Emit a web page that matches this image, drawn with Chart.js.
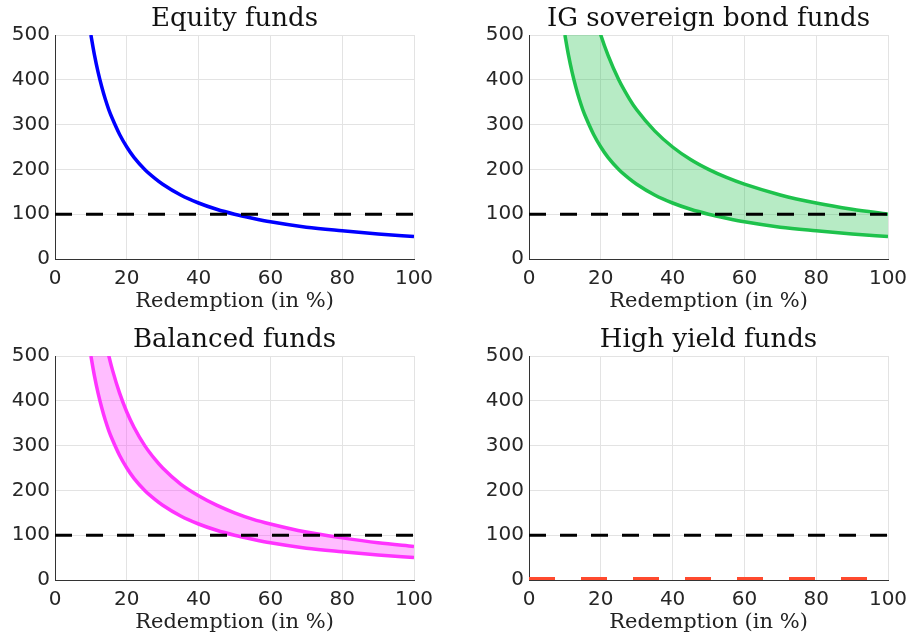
<!DOCTYPE html>
<html>
<head>
<meta charset="utf-8">
<script src="https://cdn.jsdelivr.net/npm/chart.js@4/dist/chart.umd.min.js"></script>
<style>
  html, body { margin: 0; padding: 0; background: #fff; overflow: hidden; }
  .panel { position: absolute; width: 435px; height: 320px; }
</style>
</head>
<body>
<div class="panel" style="left:0;top:0"><canvas id="equityChart" width="435" height="320"></canvas></div>
<div class="panel" style="left:474px;top:0"><canvas id="igChart" width="435" height="320"></canvas></div>
<div class="panel" style="left:0;top:321px"><canvas id="balancedChart" width="435" height="320"></canvas></div>
<div class="panel" style="left:474px;top:321px"><canvas id="hyChart" width="435" height="320"></canvas></div>
<script>
// redemption (in %)
const redemption = [10, 11, 12, 13, 14, 15, 16, 18, 20, 22, 25, 28, 30, 35, 40, 45, 50, 55, 60, 70, 80, 90, 100];
// lower bound shared by equity, IG and balanced panels
const lowerBound = [500, 455, 417, 385, 357, 333, 313, 278, 250, 227, 200, 179, 167, 143, 125, 111, 100, 91, 83, 71, 63, 56, 50];
const igUpper = [1000, 909, 833, 769, 714, 667, 625, 556, 500, 455, 400, 357, 333, 286, 250, 222, 200, 182, 167, 143, 125, 111, 100];
const balancedUpper = [750, 682, 625, 577, 536, 500, 469, 417, 375, 341, 300, 268, 250, 214, 188, 167, 150, 136, 125, 107, 94, 83, 75];
const hyX = [0, 100];
const hyValues = [2, 2];
const thresholdX = [0, 100];
const thresholdY = [100, 100];
const xTicks = [0, 20, 40, 60, 80, 100];
const yTicks = [0, 100, 200, 300, 400, 500];

const toPoints = (xs, ys) => xs.map((x, i) => ({ x: x, y: ys[i] }));

const titlePlugin = {
    id: 'panelTitle',
    afterDraw(chart) {
        const ctx = chart.ctx;
        const area = chart.chartArea;
        ctx.save();
        ctx.font = '26px "DejaVu Serif"';
        ctx.fillStyle = '#111';
        ctx.textAlign = 'center';
        ctx.textBaseline = 'alphabetic';
        ctx.fillText(chart.options.panelTitle, (area.left + area.right) / 2, 26);
        ctx.restore();
    }
};

function thresholdDataset() {
    return {
        data: toPoints(thresholdX, thresholdY),
        borderColor: '#000',
        borderWidth: 3,
        borderDash: [17, 14],
        pointRadius: 0,
        fill: false,
        order: 0
    };
}

function makeChart(id, title, datasets) {
    const ctx = document.getElementById(id).getContext('2d');
    new Chart(ctx, {
        type: 'line',
        data: { datasets: datasets },
        plugins: [titlePlugin],
        options: {
            panelTitle: title,
            responsive: false,
            animation: false,
            layout: { padding: { top: 35, right: 21, left: 0, bottom: 0 } },
            elements: {
                line: { cubicInterpolationMode: 'monotone' }
            },
            scales: {
                x: {
                    type: 'linear',
                    min: 0,
                    max: 100,
                    afterBuildTicks: (scale) => { scale.ticks = xTicks.map(v => ({ value: v })); },
                    afterFit: (scale) => {
                        scale.height = 61;
                        scale.paddingLeft = 0;
                        scale.paddingRight = 0;
                    },
                    grid: { color: '#e3e3e3', drawTicks: false },
                    border: { color: '#333', width: 1 },
                    ticks: {
                        color: '#262626',
                        padding: 8,
                        font: { family: 'DejaVu Sans', size: 20 }
                    },
                    title: {
                        display: true,
                        text: 'Redemption (in %)',
                        color: '#222',
                        padding: { top: 0, bottom: 6 },
                        font: { family: 'DejaVu Serif', size: 21 }
                    }
                },
                y: {
                    min: 0,
                    max: 500,
                    afterBuildTicks: (scale) => { scale.ticks = yTicks.map(v => ({ value: v })); },
                    afterFit: (scale) => { scale.width = 55; },
                    grid: { color: '#e3e3e3', drawTicks: false },
                    border: { color: '#333', width: 1 },
                    ticks: {
                        color: '#262626',
                        padding: 5,
                        font: { family: 'DejaVu Sans', size: 20 }
                    }
                }
            },
            plugins: {
                legend: { display: false },
                tooltip: { enabled: false }
            }
        }
    });
}

makeChart('equityChart', 'Equity funds', [
    thresholdDataset(),
    {
        data: toPoints(redemption, lowerBound),
        borderColor: '#0000ff',
        borderWidth: 3.5,
        pointRadius: 0,
        fill: false,
        order: 1
    }
]);

makeChart('igChart', 'IG sovereign bond funds', [
    thresholdDataset(),
    {
        data: toPoints(redemption, lowerBound),
        borderColor: '#1ec24c',
        borderWidth: 3.5,
        pointRadius: 0,
        fill: false,
        order: 1
    },
    {
        data: toPoints(redemption, igUpper),
        borderColor: '#1ec24c',
        backgroundColor: 'rgba(30, 194, 76, 0.32)',
        borderWidth: 3.5,
        pointRadius: 0,
        fill: 1,
        order: 2
    }
]);

makeChart('balancedChart', 'Balanced funds', [
    thresholdDataset(),
    {
        data: toPoints(redemption, lowerBound),
        borderColor: '#ff33ff',
        borderWidth: 3.5,
        pointRadius: 0,
        fill: false,
        order: 1
    },
    {
        data: toPoints(redemption, balancedUpper),
        borderColor: '#ff33ff',
        backgroundColor: 'rgba(255, 51, 255, 0.32)',
        borderWidth: 3.5,
        pointRadius: 0,
        fill: 1,
        order: 2
    }
]);

makeChart('hyChart', 'High yield funds', [
    thresholdDataset(),
    {
        data: toPoints(hyX, hyValues),
        borderColor: '#ff4a2e',
        borderWidth: 4,
        borderDash: [26, 26],
        pointRadius: 0,
        fill: false,
        order: 1
    }
]);
</script>
</body>
</html>
